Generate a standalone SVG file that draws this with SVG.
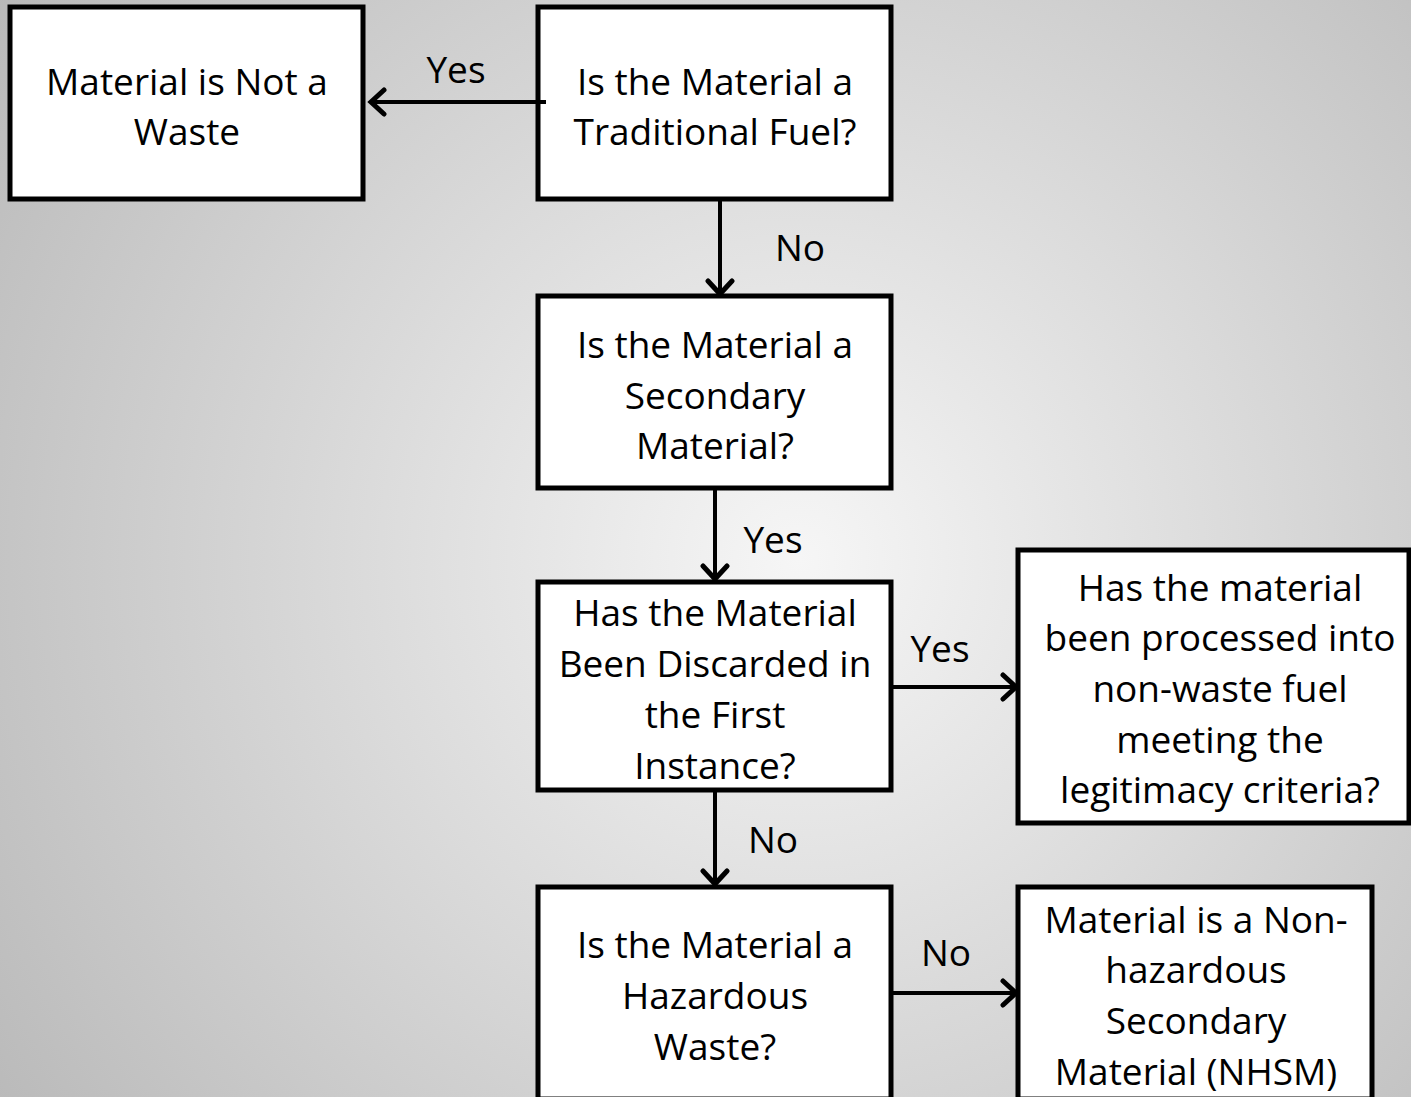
<svg xmlns="http://www.w3.org/2000/svg" width="1411" height="1097" viewBox="0 0 1411 1097">
<defs>
<radialGradient id="bg" gradientUnits="userSpaceOnUse" cx="800" cy="560" r="1000">
<stop offset="0" stop-color="#f6f6f6"/>
<stop offset="1" stop-color="#b8b8b8"/>
</radialGradient>
<marker id="arr" markerUnits="userSpaceOnUse" markerWidth="30" markerHeight="30" refX="21" refY="15" orient="auto" viewBox="0 0 30 30">
<path d="M8 3 L21 15 L8 27" fill="none" stroke="#000" stroke-width="5" stroke-linecap="round" stroke-linejoin="miter"/>
</marker>
<style>
.box{fill:#fff;stroke:#000;stroke-width:5;}
.t{font-family:"Open Sans","Liberation Sans",sans-serif;font-size:37px;fill:#000;text-anchor:middle;}
.c{fill:none;stroke:#000;stroke-width:4;}
</style>
</defs>
<rect x="0" y="0" width="1411" height="1097" fill="url(#bg)"/>
<g id="n1">
<rect class="box" x="10" y="7" width="353" height="192"/>
<text class="t" x="187" y="95">Material is Not a</text>
<text class="t" x="187" y="145">Waste</text>
</g>
<g id="n2">
<rect class="box" x="538" y="7" width="353" height="192"/>
<text class="t" x="715" y="95">Is the Material a</text>
<text class="t" x="715" y="145">Traditional Fuel?</text>
</g>
<g id="n3">
<rect class="box" x="538" y="296" width="353" height="192"/>
<text class="t" x="715" y="358">Is the Material a</text>
<text class="t" x="715" y="409">Secondary</text>
<text class="t" x="715" y="459">Material?</text>
</g>
<g id="n4">
<rect class="box" x="538" y="582" width="353" height="208"/>
<text class="t" x="715" y="626">Has the Material</text>
<text class="t" x="715" y="677">Been Discarded in</text>
<text class="t" x="715" y="728">the First</text>
<text class="t" x="715" y="779">Instance?</text>
</g>
<g id="n5">
<rect class="box" x="1018" y="550" width="391" height="273"/>
<text class="t" x="1220" y="601">Has the material</text>
<text class="t" x="1220" y="651">been processed into</text>
<text class="t" x="1220" y="702">non-waste fuel</text>
<text class="t" x="1220" y="753">meeting the</text>
<text class="t" x="1220" y="803">legitimacy criteria?</text>
</g>
<g id="n6">
<rect class="box" x="538" y="887" width="353" height="212"/>
<text class="t" x="715" y="958">Is the Material a</text>
<text class="t" x="715" y="1009">Hazardous</text>
<text class="t" x="715" y="1060">Waste?</text>
</g>
<g id="n7">
<rect class="box" x="1018" y="887" width="354" height="212"/>
<text class="t" x="1196" y="933">Material is a Non-</text>
<text class="t" x="1196" y="983">hazardous</text>
<text class="t" x="1196" y="1034">Secondary</text>
<text class="t" x="1196" y="1085">Material (NHSM)</text>
</g>
<g id="connectors">
<line class="c" x1="546" y1="102" x2="371" y2="102" marker-end="url(#arr)"/>
<line class="c" x1="720" y1="200" x2="720" y2="294" marker-end="url(#arr)"/>
<line class="c" x1="715" y1="489" x2="715" y2="579" marker-end="url(#arr)"/>
<line class="c" x1="892" y1="687" x2="1016" y2="687" marker-end="url(#arr)"/>
<line class="c" x1="715" y1="791" x2="715" y2="884" marker-end="url(#arr)"/>
<line class="c" x1="892" y1="993" x2="1016" y2="993" marker-end="url(#arr)"/>
<text class="t" x="456" y="83">Yes</text>
<text class="t" x="800" y="261">No</text>
<text class="t" x="773" y="553">Yes</text>
<text class="t" x="940" y="662">Yes</text>
<text class="t" x="773" y="853">No</text>
<text class="t" x="946" y="966">No</text>
</g>
</svg>
